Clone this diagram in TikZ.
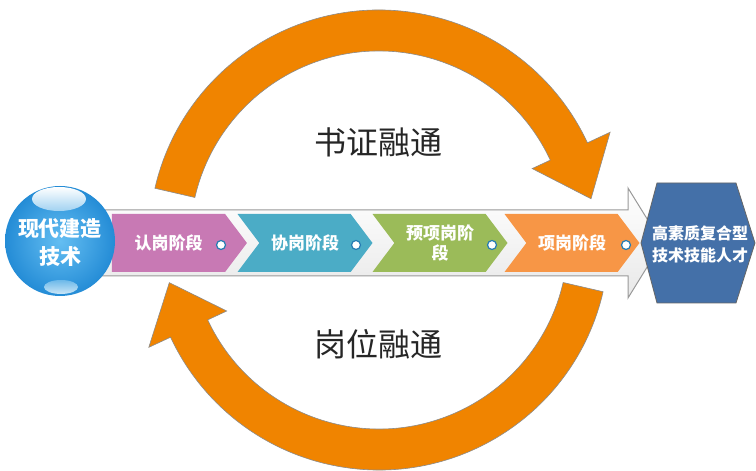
\documentclass[tikz,border=0pt]{standalone}
\usepackage{fontspec}
\newfontfamily\cjk{Noto Sans CJK SC}
\usetikzlibrary{shapes.symbols}
\definecolor{arcorange}{HTML}{F08400}
\definecolor{stagepink}{HTML}{C879B4}
\definecolor{stageteal}{HTML}{4BACC6}
\definecolor{stagegreen}{HTML}{9BBB59}
\definecolor{stageorange}{HTML}{F79646}
\definecolor{talentblue}{HTML}{4470A8}
\definecolor{ballblue}{HTML}{2E9BE0}
\tikzset{stage/.style={signal,signal to=east,signal from=west,signal pointer angle=106,minimum width=135pt,minimum height=58pt,inner sep=0pt,text=white,font=\cjk\bfseries\fontsize{17}{20}\selectfont}}
\tikzset{dot/.style={circle,draw=ballblue!80!black,fill=white,line width=1.2pt,minimum size=9pt,inner sep=0pt}}
\tikzset{bigarc/.style={fill=arcorange,draw=black!45,line width=0.6pt}}
\tikzset{band/.style={top color=white,bottom color=black!9,draw=black!40,line width=1pt}}
\tikzset{caption/.style={text=black!85,font=\cjk\fontsize{32}{36}\selectfont}}

\begin{document}
\begin{tikzpicture}[x=1pt,y=1pt]
\useasboundingbox (0,0) rectangle (756,471);
\begin{scope}[shift={(379,231)}]
\draw[bigarc] (167:230) arc[start angle=167,end angle=25,radius=230] -- (25:255) -- (11:216) -- (25:169) -- (25:189) arc[start angle=25,end angle=167,radius=189] -- cycle;
\draw[bigarc] (-13:230) arc[start angle=-13,end angle=-155,radius=230] -- (205:254) -- (191.5:214) -- (205:168) -- (205:189) arc[start angle=205,end angle=347,radius=189] -- cycle;
\end{scope}
\node[caption] (cert) at (378,329) {书证融通};
\node[caption] (post) at (378,127) {岗位融通};

\draw[band] (80,195) -- (628,195) -- (628,173) -- (662,228) -- (628,283) -- (628,261) -- (80,261) -- cycle;

\node[stage,fill=stagepink,signal from=nowhere] (s1) at (168.5,228) {认岗阶段};
\node[stage,fill=stageteal] (s2) at (305,228) {协岗阶段};
\node[stage,fill=stagegreen,align=center] (s3) at (440,228) {预项岗阶\\段};
\node[stage,fill=stageorange] (s4) at (572,228) {项岗阶段};
\node[dot] (d1) at (221,226) {};
\node[dot] (d2) at (356,226) {};
\node[dot] (d3) at (492,226) {};
\node[dot] (d4) at (626,226) {};

\shade[inner color={rgb,255:red,100;green,190;blue,242},outer color={rgb,255:red,36;green,140;blue,214}] (60,230) circle[radius=55];
\shade[top color=white,bottom color=ballblue!45!white] (59,272) ellipse[x radius=27,y radius=12];
\shade[top color=ballblue!70!white,bottom color=ballblue!25!white] (61,184) ellipse[x radius=17,y radius=7];
\node[text=white,font=\cjk\bfseries\fontsize{21}{28}\selectfont,align=center] (tech) at (60,228) {现代建造\\技术};

\draw[fill=talentblue,draw=black!60,line width=0.8pt] (641,228) -- (657,288) -- (736,288) -- (755,228) -- (736,168) -- (657,168) -- cycle;
\node[text=white,font=\cjk\bfseries\fontsize{16}{22}\selectfont,align=center] (talent) at (700,227) {高素质复合型\\技术技能人才};
\end{tikzpicture}
\end{document}
